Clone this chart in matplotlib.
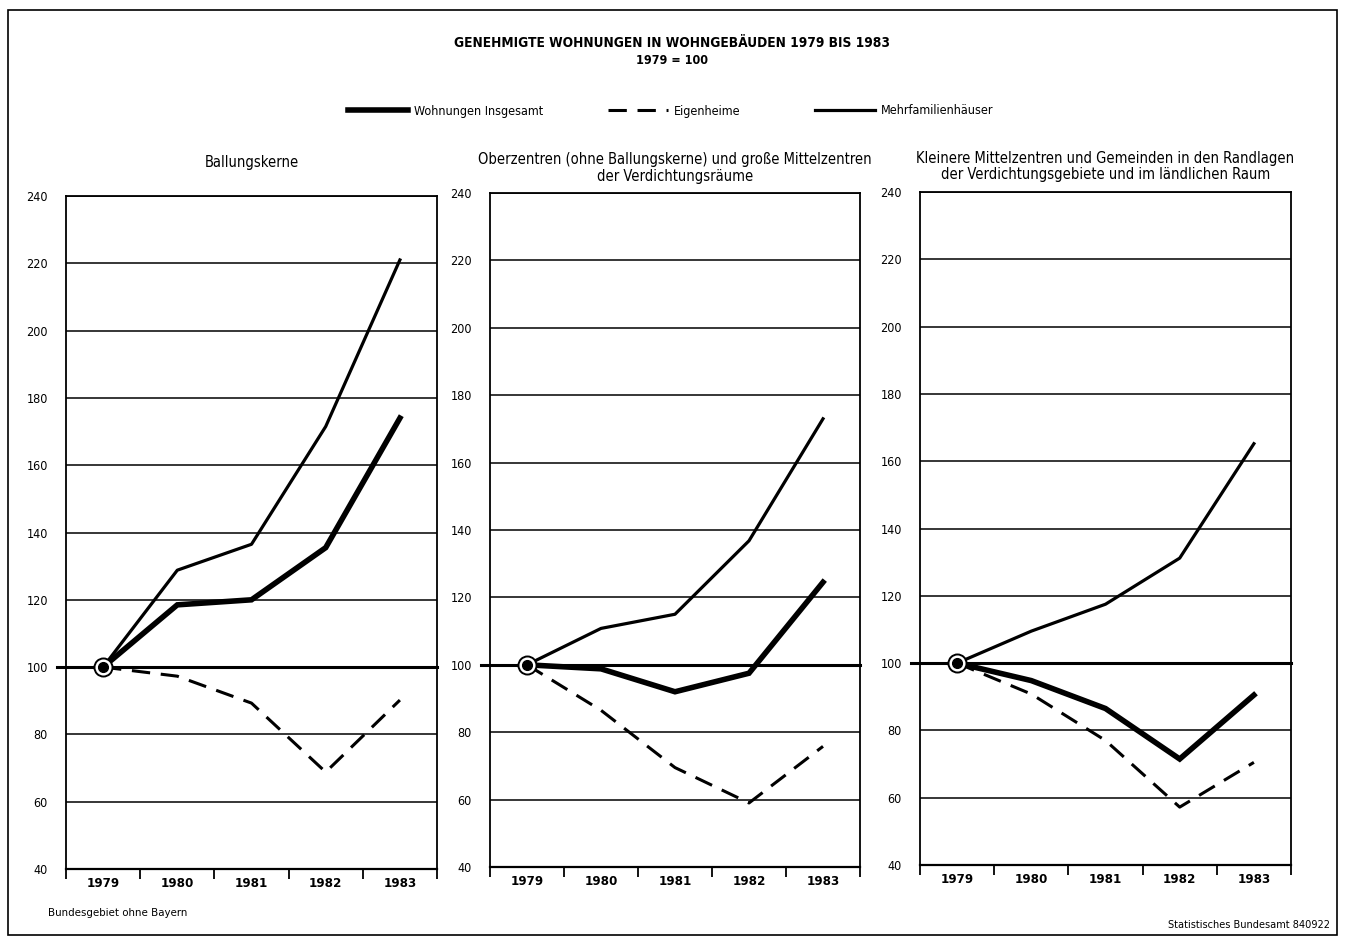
import numpy as np
import matplotlib
matplotlib.use("Agg")
import matplotlib.pyplot as plt
from matplotlib import font_manager
from matplotlib.patches import Rectangle

# schmale Schrift wie in der Vorlage
namen = {f.name for f in font_manager.fontManager.ttflist}
if 'Liberation Sans Narrow' in namen:
    plt.rcParams['font.family'] = ['Liberation Sans Narrow', 'DejaVu Sans']
else:
    plt.rcParams['font.family'] = ['DejaVu Sans']
    plt.rcParams['font.stretch'] = 'condensed'

# Daten (1979 = 100)
jahre = ["1979", "1980", "1981", "1982", "1983"]

titel = [
    "Ballungskerne",
    "Oberzentren (ohne Ballungskerne) und große Mittelzentren\nder Verdichtungsräume",
    "Kleinere Mittelzentren und Gemeinden in den Randlagen\nder Verdichtungsgebiete und im ländlichen Raum",
]

insgesamt = [
    [100, 118.5, 120, 135.5, 174],
    [100, 98.8, 92, 97.5, 124.5],
    [100, 94.8, 86.5, 71.5, 90.5],
]
eigenheime = [
    [100, 97.3, 89.3, 68.8, 90.2],
    [100, 86.5, 69.5, 59, 75.8],
    [100, 90.8, 77, 57.2, 70.5],
]
mehrfam = [
    [100, 128.8, 136.5, 171.5, 221],
    [100, 110.8, 115, 136.8, 173],
    [100, 109.5, 117.5, 131.2, 165.2],
]

yticks = [40, 60, 80, 100, 120, 140, 160, 180, 200, 220, 240]

fig = plt.figure(figsize=(13.45, 9.39), dpi=100)

# Rahmen um das Blatt
fig.add_artist(Rectangle((8/1345, 1-935/939), 1329/1345, 925/939,
                         transform=fig.transFigure, fill=False, lw=1.2, color='black'))

pos = [(66, 437, 196, 869), (490, 860, 193, 867), (920, 1291, 192, 865)]

handles = None
for i in range(3):
    l, r, t, b = pos[i]
    ax = fig.add_axes([l/1345, 1-b/939, (r-l)/1345, (b-t)/939])
    x = np.arange(len(jahre)) + 0.5

    for y in yticks:
        if y == 100:
            ax.axhline(y, xmin=-0.025, color='black', lw=2.2, clip_on=False, zorder=1)
        elif y != 40:
            ax.axhline(y, color='black', lw=1.1, zorder=1)

    h1, = ax.plot(x, insgesamt[i], color='black', lw=4.0, solid_joinstyle='miter',
                  label='Wohnungen Insgesamt', zorder=3)
    h2, = ax.plot(x, eigenheime[i], color='black', lw=2.2, dashes=(6, 3.5),
                  label='Eigenheime', zorder=3)
    h3, = ax.plot(x, mehrfam[i], color='black', lw=2.3, label='Mehrfamilienhäuser', zorder=3)
    handles = [h1, h2, h3]

    # Basispunkt 1979 = 100
    ax.plot(x[0], 100, 'o', ms=13, mfc='white', mec='black', mew=1.4, zorder=5)
    ax.plot(x[0], 100, 'o', ms=7, color='black', zorder=6)

    ax.set_xlim(0, 5)
    ax.set_ylim(40, 240)
    ax.set_xticks(np.arange(6))
    ax.set_xticklabels([])
    ax.set_xticks(x, minor=True)
    ax.set_xticklabels(jahre, minor=True, fontsize=9.5, fontweight='bold')
    ax.tick_params(axis='x', which='major', direction='out', length=7, width=1.3)
    ax.tick_params(axis='x', which='minor', length=0, pad=6)
    ax.set_yticks(yticks)
    ax.set_yticklabels([str(v) for v in yticks], fontsize=9)
    ax.tick_params(axis='y', length=0, pad=13)
    for s in ax.spines.values():
        s.set_linewidth(1.3)
    ax.spines['bottom'].set_linewidth(1.6)

    ax.set_title(titel[i], fontsize=10.5, pad=(21 if i == 0 else 9), linespacing=1.15)

fig.text(0.5, 1-43/939, "GENEHMIGTE WOHNUNGEN IN WOHNGEBÄUDEN 1979 BIS 1983",
         ha='center', va='center', fontsize=9.8, fontweight='bold')
fig.text(0.5, 1-61/939, "1979 = 100", ha='center', va='center', fontsize=9, fontweight='bold')

# Legende: drei Einträge einzeln platziert wie in der Vorlage
leg_x = [348, 608, 815]
for h, lx in zip(handles, leg_x):
    fig.legend(handles=[h], loc='center left', bbox_to_anchor=(lx/1345, 1-111/939),
               frameon=False, fontsize=9, handlelength=4.8, handletextpad=0.5,
               borderpad=0, borderaxespad=0)

fig.text(48/1345, 1-913/939, "Bundesgebiet ohne Bayern", ha='left', va='center', fontsize=8.2)
fig.text(1330/1345, 1-925/939, "Statistisches Bundesamt 840922", ha='right', va='center', fontsize=7.8)

fig.savefig("out.png", dpi=100)
